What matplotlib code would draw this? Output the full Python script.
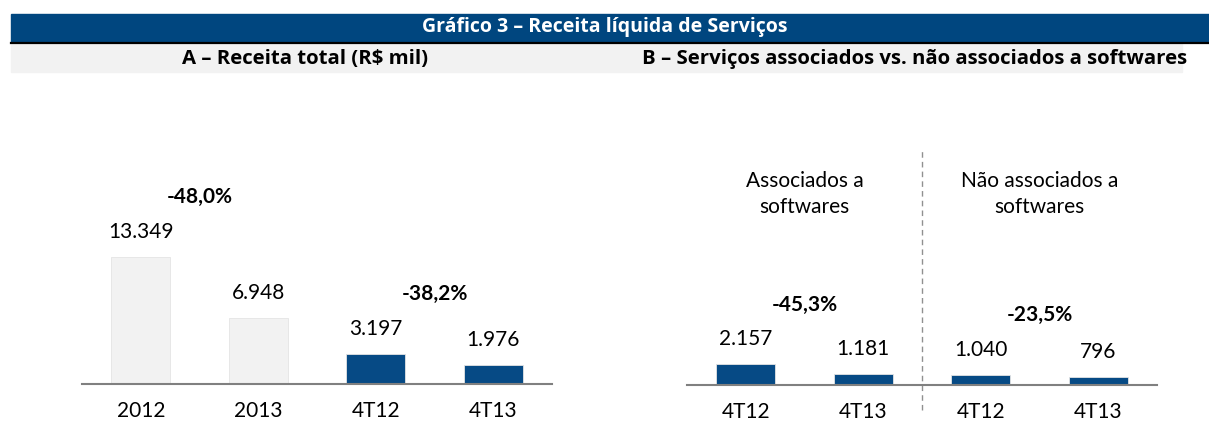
import matplotlib.pyplot as plt
from matplotlib.patches import Rectangle
from matplotlib.lines import Line2D

plt.rcParams['font.family'] = ['Lato', 'DejaVu Sans']

# Chart A - total revenue (R$ mil)
a_labels = ['2012', '2013', '4T12', '4T13']
a_values = [13349, 6948, 3197, 1976]
a_text = ['13.349', '6.948', '3.197', '1.976']
a_colors = ['#F2F2F2', '#F2F2F2', '#064A85', '#064A85']
a_changes = ['-48,0%', '-38,2%']

# Chart B - associated vs non-associated services
b_labels = ['4T12', '4T13', '4T12', '4T13']
b_values = [2157, 1181, 1040, 796]
b_text = ['2.157', '1.181', '1.040', '796']
b_changes = ['-45,3%', '-23,5%']
b_groups = ['Associados a\nsoftwares', 'Não associados a\nsoftwares']

BLUE = '#064A85'
W, H = 1209, 423
fig = plt.figure(figsize=(W / 100, H / 100), dpi=100)

# header band
fig.patches.append(Rectangle((11 / W, 1 - 42 / H), 1 - 11 / W, 28 / H,
                             transform=fig.transFigure, color='#00467F'))
fig.patches.append(Rectangle((11 / W, 1 - 72 / H), (1182 - 11) / W, 29 / H,
                             transform=fig.transFigure, color='#F2F2F2'))
fig.lines.append(Line2D([11 / W, 1], [1 - 43 / H] * 2, transform=fig.transFigure,
                        color='black', lw=1.6))
head = dict(va='center', fontweight='bold', family='Open Sans')
fig.text(0.5, 1 - 27 / H, 'Gráfico 3 – Receita líquida de Serviços', ha='center',
         color='white', fontsize=14, **head)
fig.text(305 / W, 1 - 59 / H, 'A – Receita total (R$ mil)', ha='center',
         fontsize=14.7, **head)
fig.text(1187 / W, 1 - 59 / H, 'B – Serviços associados vs. não associados a softwares',
         ha='right', fontsize=14.7, **head)

ymax = 30000
ax_h = ymax * 0.00951 / H
axA = fig.add_axes([82 / W, 39 / H, 470 / W, ax_h])
axB = fig.add_axes([687 / W, 38 / H, 470 / W, ax_h])


def draw(ax, labels, values, texts, colors, changes):
    x = range(len(values))
    ax.bar(x, values, width=0.5, color=colors, edgecolor='#E4E4E4', linewidth=0.6)
    ax.set_xlim(-0.5, 3.5)
    ax.set_ylim(0, ymax)
    for s in ['top', 'left', 'right']:
        ax.spines[s].set_visible(False)
    ax.spines['bottom'].set_color('#808080')
    ax.spines['bottom'].set_linewidth(1.5)
    ax.set_yticks([])
    ax.set_xticks(list(x))
    ax.set_xticklabels(labels, fontsize=15)
    ax.tick_params(axis='x', length=0, pad=12)
    for i, v in enumerate(values):
        ax.annotate(texts[i], (i, v), xytext=(0, 18), textcoords='offset points',
                    ha='center', va='center', fontsize=15)
    for k, ch in enumerate(changes):
        top = max(values[2 * k], values[2 * k + 1])
        ax.annotate(ch, (2 * k + 0.5, top), xytext=(0, 43), textcoords='offset points',
                    ha='center', va='center', fontsize=15, fontweight='bold')


draw(axA, a_labels, a_values, a_text, a_colors, a_changes)
draw(axB, b_labels, b_values, b_text, [BLUE] * 4, b_changes)

axB.axvline(1.5, ymin=-0.088, ymax=0.825, color='#909090', lw=1, ls=(0, (4, 3)),
            clip_on=False)
for k, g in enumerate(b_groups):
    axB.text(2 * k + 0.5, 0.67, g, transform=axB.get_xaxis_transform(), ha='center',
             va='center', fontsize=15, linespacing=1.4)

fig.savefig('out.png', dpi=100)
